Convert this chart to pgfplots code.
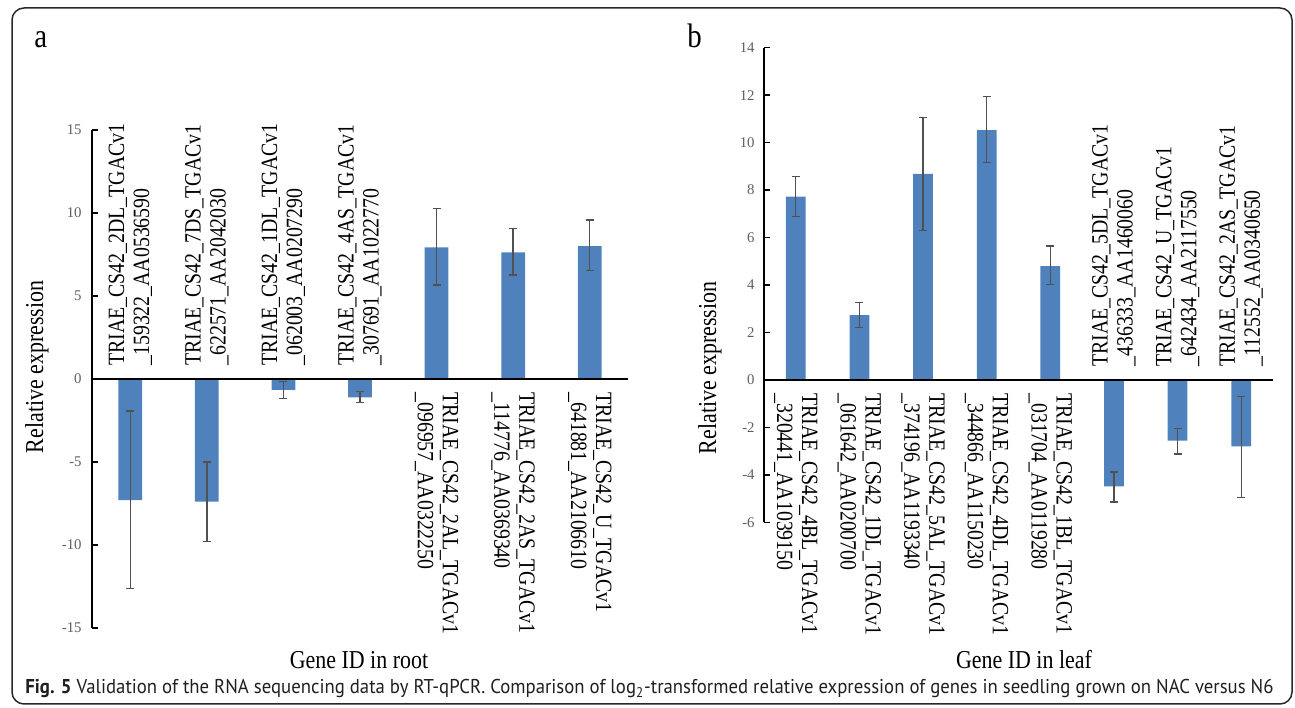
\documentclass[border=0pt]{standalone}
\usepackage{pgfplots}
\pgfplotsset{compat=1.18}
\usepackage{pgfplotstable}
\usepackage{graphicx}
\usepackage{fontspec}
\setmainfont{Liberation Serif}
\newfontfamily\condserif[FakeStretch=0.85]{Liberation Serif}
\newfontfamily\capfont{PT Sans}
\definecolor{barblue}{RGB}{79,129,189}
\definecolor{errgray}{RGB}{80,80,80}
\definecolor{tickgray}{RGB}{95,95,95}
\definecolor{framegray}{RGB}{40,40,40}
\newcommand\lab{\condserif\fontsize{11.65bp}{12.5bp}\selectfont}
\newcommand\axt{\condserif\fontsize{12.9bp}{15bp}\selectfont}

\pgfplotstableread{
x y ep em
0 -7.29 5.36 5.32
1 -7.39 2.39 2.41
2 -0.66 0.50 0.50
3 -1.10 0.34 0.33
4 7.93 2.35 2.27
5 7.63 1.45 1.36
6 8.01 1.57 1.49
}\rootdata

\pgfplotstableread{
x y ep em
0 7.73 0.85 0.84
1 2.73 0.53 0.52
2 8.68 2.38 2.38
3 10.53 1.40 1.38
4 4.80 0.84 0.78
5 -4.48 0.60 0.66
6 -2.56 0.51 0.56
7 -2.80 2.10 2.15
}\leafdata

\pgfplotsset{
  exstyle/.style={
    anchor=south west, scale only axis, clip=false,
    axis x line=none, axis y line*=left,
    axis line style={-, line width=0.75bp, black},
    tick align=inside, major tick length=3bp,
    tick style={line width=0.75bp, black},
    xtick=\empty,
    /pgf/number format/assume math mode=true,
    yticklabel style={font=\rmfamily\fontsize{7.4bp}{8.5bp}\selectfont, text=tickgray, inner sep=0pt},
    ybar, bar width=0.31,
  },
  barplot/.style={fill=barblue, draw=none,
    error bars/.cd, y dir=both, y explicit,
    error bar style={draw=errgray, solid, line width=0.65bp},
    error mark options={rotate=90, mark size=2bp, line width=0.65bp, draw=errgray}},
}
\tikzset{
  neglab/.style={rotate=90, anchor=west, align=left, inner xsep=6.5bp, inner ysep=0pt, font=\lab},
  poslab/.style={rotate=-90, anchor=west, align=left, inner xsep=6.5bp, inner ysep=0pt, font=\lab},
}

\begin{document}
\begin{tikzpicture}
\useasboundingbox (0,0) rectangle (647.5bp,354bp);
\draw[line width=0.75bp, framegray, rounded corners=6bp] (6bp,2bp) rectangle (646bp,350bp);

% panel a
\begin{axis}[exstyle, at={(46bp,40bp)}, width=268bp, height=249bp,
  xmin=-0.5, xmax=6.5, ymin=-15, ymax=15, ytick={-15,-10,...,15},
  yticklabel style={xshift=-5bp}]
\addplot[barplot] table[x=x, y=y, y error plus=ep, y error minus=em] {\rootdata};
\draw[line width=0.75bp, black] (axis cs:-0.5,0) -- (axis cs:6.5,0);
\node[neglab] at (axis cs:0,0) {TRIAE\_CS42\_2DL\_TGACv1\\\_159322\_AA0536590};
\node[neglab] at (axis cs:1,0) {TRIAE\_CS42\_7DS\_TGACv1\\\_622571\_AA2042030};
\node[neglab] at (axis cs:2,0) {TRIAE\_CS42\_1DL\_TGACv1\\\_062003\_AA0207290};
\node[neglab] at (axis cs:3,0) {TRIAE\_CS42\_4AS\_TGACv1\\\_307691\_AA1022770};
\node[poslab] at (axis cs:4,0) {TRIAE\_CS42\_2AL\_TGACv1\\\_096957\_AA0322250};
\node[poslab] at (axis cs:5,0) {TRIAE\_CS42\_2AS\_TGACv1\\\_114776\_AA0369340};
\node[poslab] at (axis cs:6,0) {TRIAE\_CS42\_U\_TGACv1\\\_641881\_AA2106610};
\end{axis}

% panel b
\begin{axis}[exstyle, at={(382bp,92.8bp)}, width=254.5bp, height=237.35bp,
  xmin=-0.5, xmax=7.5, ymin=-6, ymax=14, ytick={-6,-4,...,14},
  yticklabel style={xshift=-4.5bp}]
\addplot[barplot] table[x=x, y=y, y error plus=ep, y error minus=em] {\leafdata};
\draw[line width=0.75bp, black] (axis cs:-0.5,0) -- (axis cs:7.5,0);
\node[poslab] at (axis cs:0,0) {TRIAE\_CS42\_4BL\_TGACv1\\\_320441\_AA1039150};
\node[poslab] at (axis cs:1,0) {TRIAE\_CS42\_1DL\_TGACv1\\\_061642\_AA0200700};
\node[poslab] at (axis cs:2,0) {TRIAE\_CS42\_5AL\_TGACv1\\\_374196\_AA1193340};
\node[poslab] at (axis cs:3,0) {TRIAE\_CS42\_4DL\_TGACv1\\\_344866\_AA1150230};
\node[poslab] at (axis cs:4,0) {TRIAE\_CS42\_1BL\_TGACv1\\\_031704\_AA0119280};
\node[neglab] at (axis cs:5,0) {TRIAE\_CS42\_5DL\_TGACv1\\\_436333\_AA1460060};
\node[neglab] at (axis cs:6,0) {TRIAE\_CS42\_U\_TGACv1\\\_642434\_AA2117550};
\node[neglab] at (axis cs:7,0) {TRIAE\_CS42\_2AS\_TGACv1\\\_112552\_AA0340650};
\end{axis}

% titles and labels
\node[rotate=90, font=\axt, inner sep=0pt] at (18.5bp,170.5bp) {Relative expression};
\node[rotate=90, font=\axt, inner sep=0pt] at (355bp,170bp) {Relative expression};
\node[font=\axt, anchor=base, inner sep=0pt] at (179.5bp,20bp) {Gene ID in root};
\node[font=\axt, anchor=base, inner sep=0pt] at (512bp,20bp) {Gene ID in leaf};
\node[font=\condserif\fontsize{17bp}{20bp}\selectfont, anchor=base west, inner sep=0pt] at (17bp,330bp) {a};
\node[font=\condserif\fontsize{17bp}{20bp}\selectfont, anchor=base west, inner sep=0pt] at (343.5bp,330bp) {b};
\node[anchor=base west, inner sep=0pt] at (12.5bp,7bp) {\resizebox{624bp}{\height}{\capfont\fontsize{10bp}{12bp}\selectfont\color{black!88}\textbf{Fig. 5} Validation of the RNA sequencing data by RT-qPCR. Comparison of log\textsubscript{2}-transformed relative expression of genes in seedling grown on NAC versus N6}};
\end{tikzpicture}
\end{document}
